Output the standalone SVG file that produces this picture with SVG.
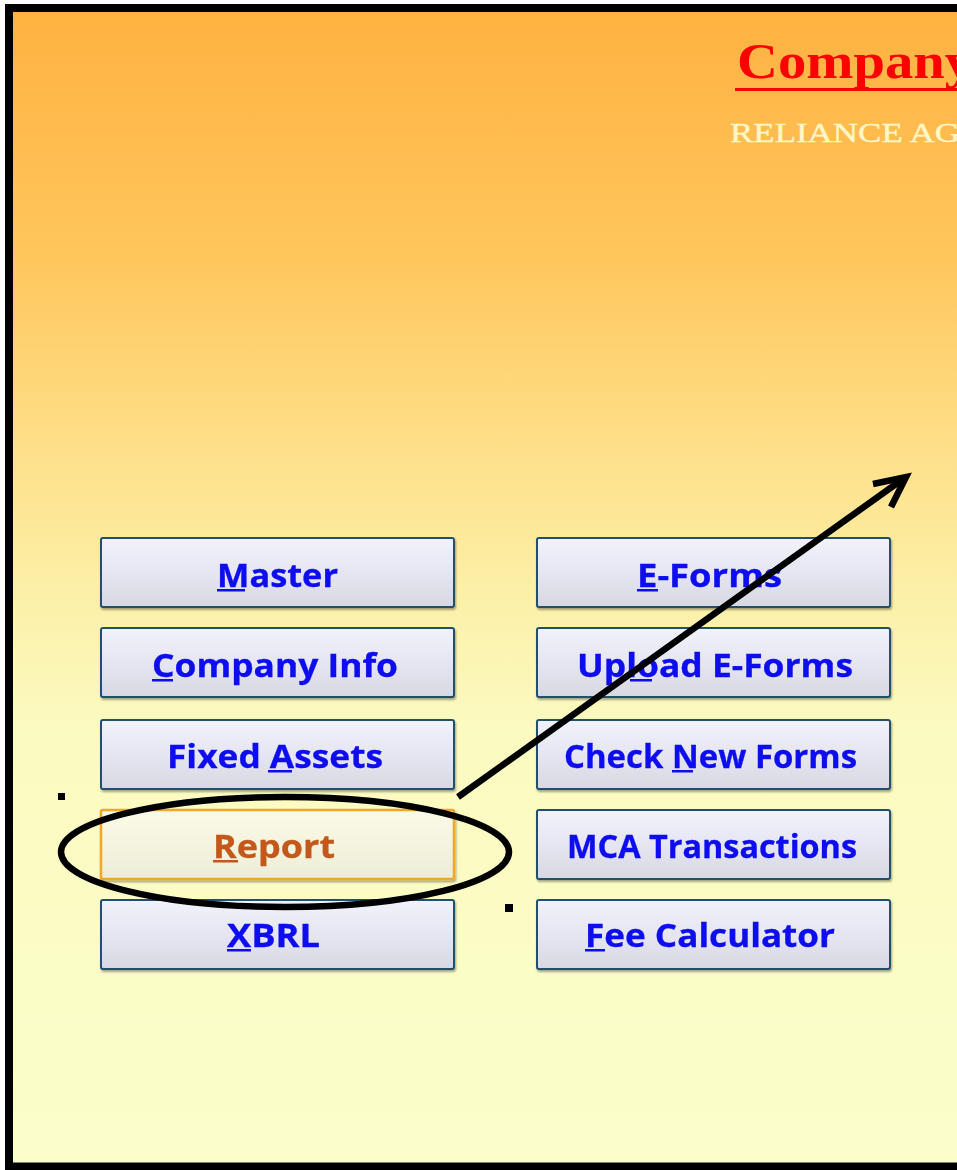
<svg xmlns="http://www.w3.org/2000/svg" width="957" height="1170" viewBox="0 0 957 1170">
<defs>
<linearGradient id="bg" x1="0" y1="0" x2="0" y2="1170" gradientUnits="userSpaceOnUse">
<stop offset="0" stop-color="#ffb13f"/>
<stop offset="0.22" stop-color="#ffc65c"/>
<stop offset="0.38" stop-color="#fedf88"/>
<stop offset="0.5" stop-color="#fcefa6"/>
<stop offset="0.62" stop-color="#fbfac0"/>
<stop offset="1" stop-color="#fbfecb"/>
</linearGradient>
<linearGradient id="btn" x1="0" y1="0" x2="0" y2="1">
<stop offset="0" stop-color="#f2f2fc"/>
<stop offset="0.5" stop-color="#e6e6f2"/>
<stop offset="1" stop-color="#d8d8e2"/>
</linearGradient>
<linearGradient id="btnHi" x1="0" y1="0" x2="0" y2="1">
<stop offset="0" stop-color="#fcfae6"/>
<stop offset="1" stop-color="#ecedd8"/>
</linearGradient>
<filter id="sh" x="-5%" y="-20%" width="110%" height="140%">
<feGaussianBlur in="SourceAlpha" stdDeviation="1"/>
<feOffset dx="1" dy="1.5" result="b"/>
<feComponentTransfer><feFuncA type="linear" slope="0.35"/></feComponentTransfer>
<feMerge><feMergeNode/><feMergeNode in="SourceGraphic"/></feMerge>
</filter>
</defs>
<style>
.btn{fill:url(#btn);stroke:#24506e;stroke-width:2}
.btnHi{fill:url(#btnHi);stroke:#f2a62a;stroke-width:2.5}
.lbl{font-family:"Open Sans","Liberation Sans",sans-serif;font-weight:bold;font-size:32px;fill:#0a0af0;stroke:#0a0af0;stroke-width:0.3}
.lblHi{font-family:"Open Sans","Liberation Sans",sans-serif;font-weight:bold;font-size:32px;fill:#c4591a;stroke:#c4591a;stroke-width:0.3}
.ul{fill:#0a0af0}
.ulHi{fill:#c4591a}
.ink{fill:none;stroke:#000;stroke-width:6.5}
</style>
<rect x="0" y="0" width="957" height="1170" fill="#ffffff"/>
<rect x="5" y="4" width="952" height="1166" fill="url(#bg)"/>
<path d="M957 8 H9 V1166.5 H957" fill="none" stroke="#000" stroke-width="8"/>

<g id="title">
<text x="737" y="78" font-family="'Liberation Serif','Times New Roman',serif" font-weight="bold" font-size="50" fill="#ff0000" textLength="236" lengthAdjust="spacingAndGlyphs">Company</text>
<rect x="735" y="88" width="222" height="3" fill="#ff0000"/>
<text x="730" y="142" font-family="'Liberation Serif','Times New Roman',serif" font-size="28" fill="#fff7c6" stroke="#fff7c6" stroke-width="0.4" textLength="230" lengthAdjust="spacingAndGlyphs">RELIANCE AG</text>
</g>

<g id="btn-master" filter="url(#sh)">
<rect class="btn" x="101" y="538" width="353" height="69" rx="2"/>
<text class="lbl" x="217" y="587" textLength="121" lengthAdjust="spacingAndGlyphs">Master</text>
<rect class="ul" x="217" y="589" width="28" height="2.5"/>
</g>
<g id="btn-company-info" filter="url(#sh)">
<rect class="btn" x="101" y="628" width="353" height="69" rx="2"/>
<text class="lbl" x="152" y="677" textLength="246" lengthAdjust="spacingAndGlyphs">Company Info</text>
<rect class="ul" x="152" y="679" width="21" height="2.5"/>
</g>
<g id="btn-fixed-assets" filter="url(#sh)">
<rect class="btn" x="101" y="720" width="353" height="69" rx="2"/>
<text class="lbl" x="167" y="768" textLength="216" lengthAdjust="spacingAndGlyphs">Fixed Assets</text>
<rect class="ul" x="268" y="770" width="24" height="2.5"/>
</g>
<g id="btn-report" filter="url(#sh)">
<rect class="btnHi" x="101" y="810" width="353" height="69" rx="2"/>
<text class="lblHi" x="213" y="858" textLength="122" lengthAdjust="spacingAndGlyphs">Report</text>
<rect class="ulHi" x="213" y="860" width="25" height="2.5"/>
</g>
<g id="btn-xbrl" filter="url(#sh)">
<rect class="btn" x="101" y="900" width="353" height="69" rx="2"/>
<text class="lbl" x="227" y="947" textLength="93" lengthAdjust="spacingAndGlyphs">XBRL</text>
<rect class="ul" x="227" y="949" width="24" height="2.5"/>
</g>

<g id="btn-eforms" filter="url(#sh)">
<rect class="btn" x="537" y="538" width="353" height="69" rx="2"/>
<text class="lbl" x="637" y="587" textLength="145" lengthAdjust="spacingAndGlyphs">E-Forms</text>
<rect class="ul" x="637" y="589" width="21" height="2.5"/>
</g>
<g id="btn-upload" filter="url(#sh)">
<rect class="btn" x="537" y="628" width="353" height="69" rx="2"/>
<text class="lbl" x="577" y="677" textLength="276" lengthAdjust="spacingAndGlyphs">Upload E-Forms</text>
<rect class="ul" x="630" y="679" width="22" height="2.5"/>
</g>
<g id="btn-check-new" filter="url(#sh)">
<rect class="btn" x="537" y="720" width="353" height="69" rx="2"/>
<text class="lbl" x="564" y="768" textLength="293" lengthAdjust="spacingAndGlyphs">Check New Forms</text>
<rect class="ul" x="672" y="770" width="21" height="2.5"/>
</g>
<g id="btn-mca" filter="url(#sh)">
<rect class="btn" x="537" y="810" width="353" height="69" rx="2"/>
<text class="lbl" x="567" y="858" textLength="290" lengthAdjust="spacingAndGlyphs">MCA Transactions</text>
</g>
<g id="btn-fee" filter="url(#sh)">
<rect class="btn" x="537" y="900" width="353" height="69" rx="2"/>
<text class="lbl" x="585" y="947" textLength="250" lengthAdjust="spacingAndGlyphs">Fee Calculator</text>
<rect class="ul" x="585" y="949" width="20" height="2.5"/>
</g>

<g id="connectors">
<ellipse class="ink" cx="285" cy="852" rx="224" ry="55"/>
<path class="ink" d="M458 797 L903 479"/>
<path class="ink" d="M873 484 L906 477 L891 507"/>
<rect x="58" y="793" width="7" height="7" fill="#000"/>
<rect x="505" y="904" width="8" height="8" fill="#000"/>
</g>
</svg>
